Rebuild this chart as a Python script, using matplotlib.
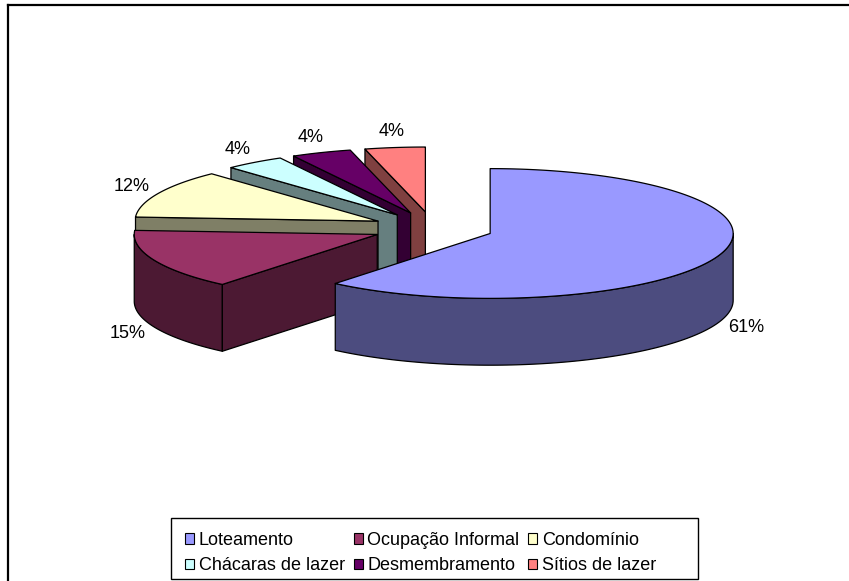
import numpy as np
import matplotlib.pyplot as plt
from matplotlib.patches import Polygon, Rectangle, Patch
from matplotlib.lines import Line2D

plt.rcParams['font.family'] = ['Liberation Sans', 'DejaVu Sans']

categorias = ['Loteamento', 'Ocupação Informal', 'Condomínio',
              'Chácaras de lazer', 'Desmembramento', 'Sítios de lazer']
valores = [61, 15, 12, 4, 4, 4]
cores_topo = ['#9999FF', '#993366', '#FFFFCC', '#CCFFFF', '#660066', '#FF8080']
cores_lado = ['#4C4C7F', '#4C1933', '#7F7F66', '#667F7F', '#330033', '#7F4040']

# pizza 3D "explodida": elipse achatada + espessura
inclina = 0.267
altura = 0.275
explode = 0.25

fig = plt.figure(figsize=(8.49, 5.81), dpi=100)
ax = fig.add_axes([0, 0, 1, 1])
esc = 243.0
cx, cy = 433.0, 228.0
ax.set_xlim(-cx / esc, (849 - cx) / esc)
ax.set_ylim((cy - 581) / esc, cy / esc)
ax.axis('off')

total = float(sum(valores))
# angulos no sentido horario a partir de 12 horas
ang = np.concatenate([[0], np.cumsum(valores)]) / total * 2 * np.pi


def arco(t, ox, oy, dz=0.0):
    return np.column_stack([ox + np.sin(t), oy + inclina * np.cos(t) - dz])


n = len(valores)
for i in range(n):
    t0, t1 = ang[i], ang[i + 1]
    tm = (t0 + t1) / 2
    ox = explode * np.sin(tm)
    oy = explode * inclina * np.cos(tm)
    zo = 10 + 2 * (n - i)  # fatias de tras primeiro, Loteamento por cima
    kw = dict(edgecolor='black', linewidth=0.9, joinstyle='round')

    # face lateral curva (parte da frente)
    ta, tb = max(t0, np.pi / 2), min(t1, 3 * np.pi / 2)
    if tb > ta:
        t = np.linspace(ta, tb, 120)
        pts = np.vstack([arco(t, ox, oy), arco(t[::-1], ox, oy, altura)])
        ax.add_patch(Polygon(pts, closed=True, facecolor=cores_lado[i], zorder=zo, **kw))

    # face radial do inicio da fatia
    if np.sin(t0) < -1e-9:
        p = arco(np.array([t0]), ox, oy)[0]
        pts = [(ox, oy), p, (p[0], p[1] - altura), (ox, oy - altura)]
        ax.add_patch(Polygon(pts, closed=True, facecolor=cores_lado[i], zorder=zo, **kw))

    # topo
    t = np.linspace(t0, t1, 200)
    pts = np.vstack([[ox, oy], arco(t, ox, oy)])
    ax.add_patch(Polygon(pts, closed=True, facecolor=cores_topo[i], zorder=zo + 1, **kw))

    # rotulo percentual
    ly = oy + 1.25 * inclina * np.cos(tm) - (altura if np.cos(tm) < 0 else 0)
    lx = ox + 1.12 * np.sin(tm)
    ax.text(lx, ly, '%d%%' % round(valores[i] / total * 100), ha='center', va='center',
            fontsize=13, color='black', zorder=40)

# moldura do grafico
fig.add_artist(Line2D([8 / 849, 1], [1 - 5 / 581] * 2, color='black', lw=1.6,
                      transform=fig.transFigure))
fig.add_artist(Line2D([8 / 849] * 2, [0, 1 - 5 / 581], color='black', lw=1.6,
                      transform=fig.transFigure))

# legenda
fig.add_artist(Rectangle((171 / 849, 1 - 579 / 581), 527 / 849, 61 / 581, fill=False,
                         edgecolor='black', lw=1.0, transform=fig.transFigure))
ordem = [0, 3, 1, 4, 2, 5]
alcas = [Patch(facecolor=cores_topo[k], edgecolor='black', lw=0.8) for k in ordem]
fig.legend(alcas, [categorias[k] for k in ordem], ncol=3, loc='center left',
           bbox_to_anchor=(176 / 849, 1 - 553 / 581), frameon=False, borderpad=0,
           fontsize=13, handlelength=0.5, handleheight=0.5, handletextpad=0.25,
           columnspacing=0.5, labelspacing=0.45)

fig.savefig('out.png', dpi=100)
